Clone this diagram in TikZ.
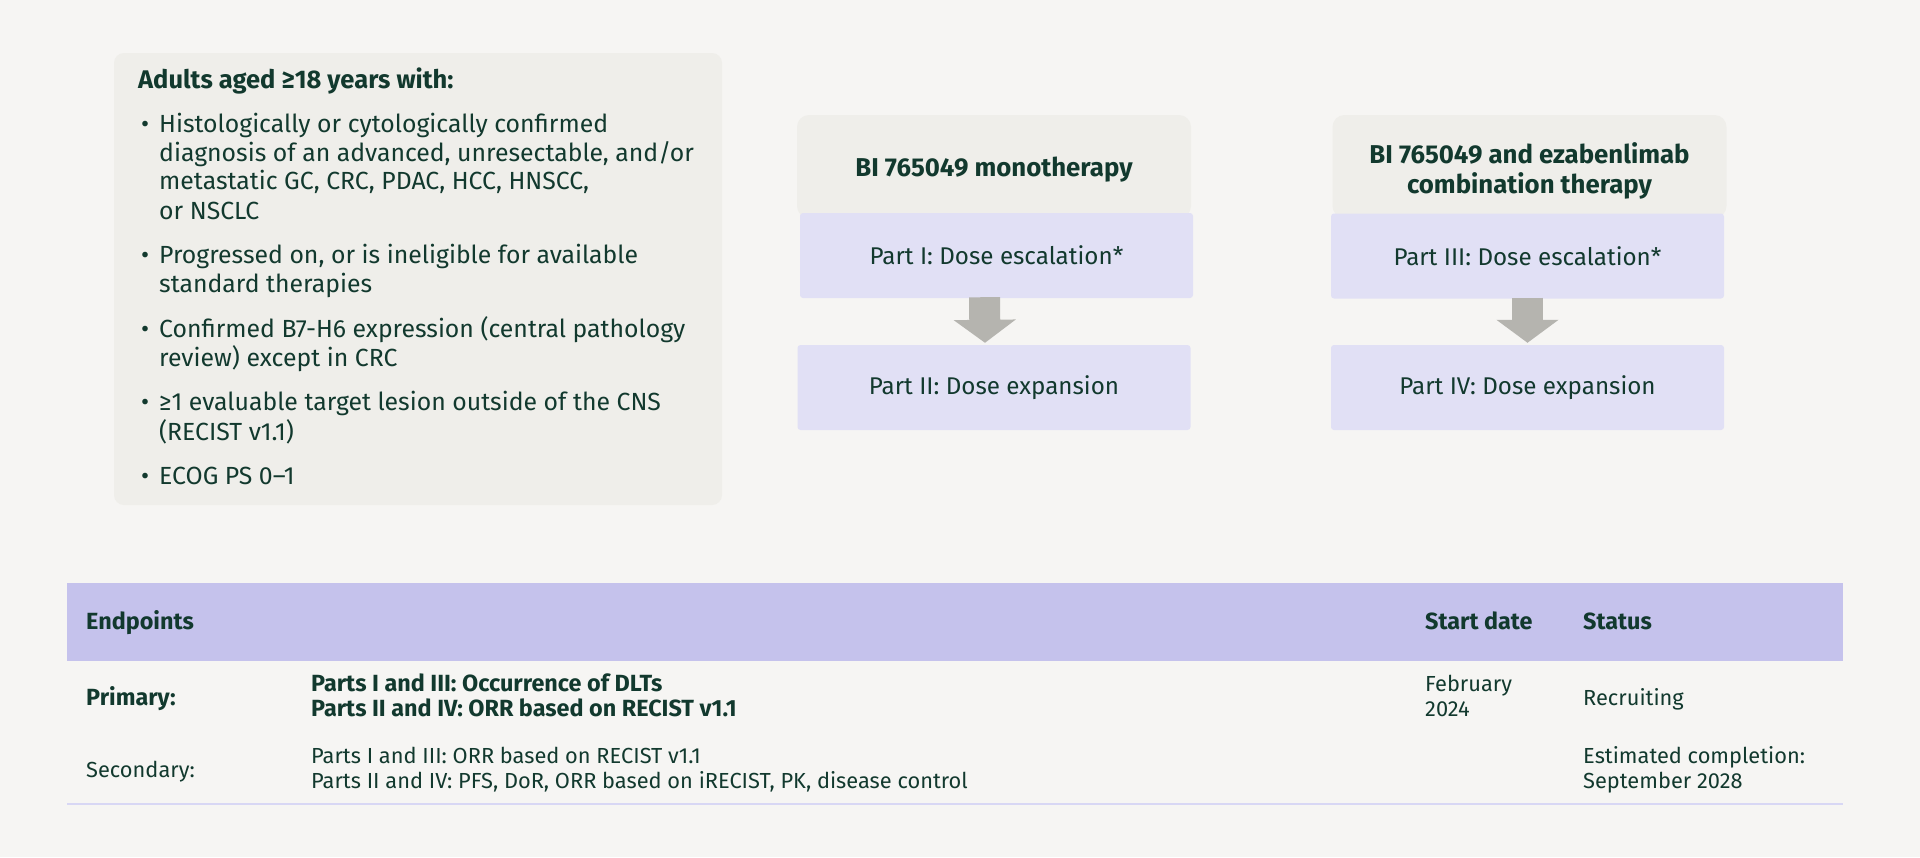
\documentclass[tikz,border=0pt]{standalone}
\usepackage{fontspec}
\setmainfont{Fira Sans}
\usetikzlibrary{arrows.meta,calc}
\definecolor{bg}{HTML}{F6F5F3}
\definecolor{greybox}{HTML}{EFEEEA}
\definecolor{lav}{HTML}{E1E0F5}
\definecolor{band}{HTML}{C5C2EC}
\definecolor{ink}{HTML}{12392E}
\definecolor{arr}{HTML}{B5B4AF}
\definecolor{rule}{HTML}{D8D7F4}
\begin{document}
\begin{tikzpicture}[x=1pt,y=-1pt,
  txt/.style={anchor=base west,inner sep=0pt,text=ink,font=\fontsize{24.8}{29}\selectfont},
  btxt/.style={txt,font=\fontsize{25.5}{29}\selectfont\bfseries},
  ttxt/.style={anchor=base west,inner sep=0pt,text=ink,font=\fontsize{21.8}{24}\selectfont},
  tbtxt/.style={ttxt,font=\fontsize{23.4}{24}\selectfont\bfseries},
  bctr/.style={inner sep=0pt,text=ink,align=center,font=\fontsize{25.8}{30}\selectfont\bfseries},
  headbox/.style={fill=greybox,rounded corners=12pt,minimum width=394pt,minimum height=103pt,inner sep=0pt},
  partbox/.style={fill=lav,rounded corners=3pt,minimum width=393pt,minimum height=85pt,inner sep=0pt,text=ink,font=\fontsize{24.2}{29}\selectfont},
  blockarrow/.style={arr,line width=31pt,-{Triangle[width=61pt,length=23pt]}}
]
\useasboundingbox[fill=bg] (0,0) rectangle (1920,857);

% eligibility box
\node[fill=greybox,rounded corners=10pt,minimum width=608pt,minimum height=452pt,inner sep=0pt] (elig) at (418,279) {};
\node[btxt] (etitle) at (138,88.5) {Adults aged ≥18 years with:};
\node[txt] (b1) at (141,132.5) {•};
\node[txt] (l1a) at (159,132.5) {Histologically or cytologically confirmed};
\node[txt] (l1b) at (159,161.5) {diagnosis of an advanced, unresectable, and/or};
\node[txt] (l1c) at (159,189.5) {metastatic GC, CRC, PDAC, HCC, HNSCC,};
\node[txt] (l1d) at (159,219.5) {or NSCLC};
\node[txt] (b2) at (141,263.5) {•};
\node[txt] (l2a) at (159,263.5) {Progressed on, or is ineligible for available};
\node[txt] (l2b) at (159,292.5) {standard therapies};
\node[txt] (b3) at (141,337.5) {•};
\node[txt] (l3a) at (159,337.5) {Confirmed B7-H6 expression (central pathology};
\node[txt] (l3b) at (159,366.5) {review) except in CRC};
\node[txt] (b4) at (141,410.5) {•};
\node[txt] (l4a) at (159,410.5) {≥1 evaluable target lesion outside of the CNS};
\node[txt] (l4b) at (159,440.5) {(RECIST v1.1)};
\node[txt] (b5) at (141,484.5) {•};
\node[txt] (l5a) at (159,484.5) {ECOG PS 0–1};

% monotherapy column
\node[headbox] (monoh) at (994,166.5) {};
\node[bctr] (monot) at (994,170) {BI 765049 monotherapy};
\node[partbox] (p1) at (996.5,255.5) {Part I: Dose escalation*};
\node[partbox] (p2) at (994,387.5) {Part II: Dose expansion};
\draw[blockarrow] ($(p1.south)+(-12,-1)$) -- ($(p2.north)+(-9,-2)$);

% combination column
\node[headbox] (comboh) at (1529.5,166.5) {};
\node[bctr] (combot) at (1529.5,171) {BI 765049 and ezabenlimab\\combination therapy};
\node[partbox] (p3) at (1527.5,256) {Part III: Dose escalation*};
\node[partbox] (p4) at (1527.5,387.5) {Part IV: Dose expansion};
\draw[blockarrow] ($(p3.south)+(0,-1)$) -- ($(p4.north)+(0,-2)$);

% table
\node[fill=band,minimum width=1776pt,minimum height=78pt,inner sep=0pt] (band) at (955,622) {};
\node[tbtxt] (hend) at (86,629) {Endpoints};
\node[tbtxt] (hstart) at (1425,629) {Start date};
\node[tbtxt] (hstat) at (1583,629) {Status};

\node[tbtxt] (prim) at (86,705) {Primary:};
\node[tbtxt] (pr1) at (311,691) {Parts I and III: Occurrence of DLTs};
\node[tbtxt] (pr2) at (311,716) {Parts II and IV: ORR based on RECIST v1.1};
\node[ttxt] (feb) at (1425,691) {February};
\node[ttxt] (yr) at (1425,716) {2024};
\node[ttxt] (recr) at (1583,705) {Recruiting};

\node[ttxt] (sec) at (86,777) {Secondary:};
\node[ttxt] (se1) at (311,763) {Parts I and III: ORR based on RECIST v1.1};
\node[ttxt] (se2) at (311,788) {Parts II and IV: PFS, DoR, ORR based on iRECIST, PK, disease control};
\node[ttxt] (est1) at (1583,763) {Estimated completion:};
\node[ttxt] (est2) at (1583,788) {September 2028};

\coordinate (rl) at (67,804);
\coordinate (rr) at (1843,804);
\draw[rule,line width=2pt] (rl) -- (rr);
\end{tikzpicture}
\end{document}
